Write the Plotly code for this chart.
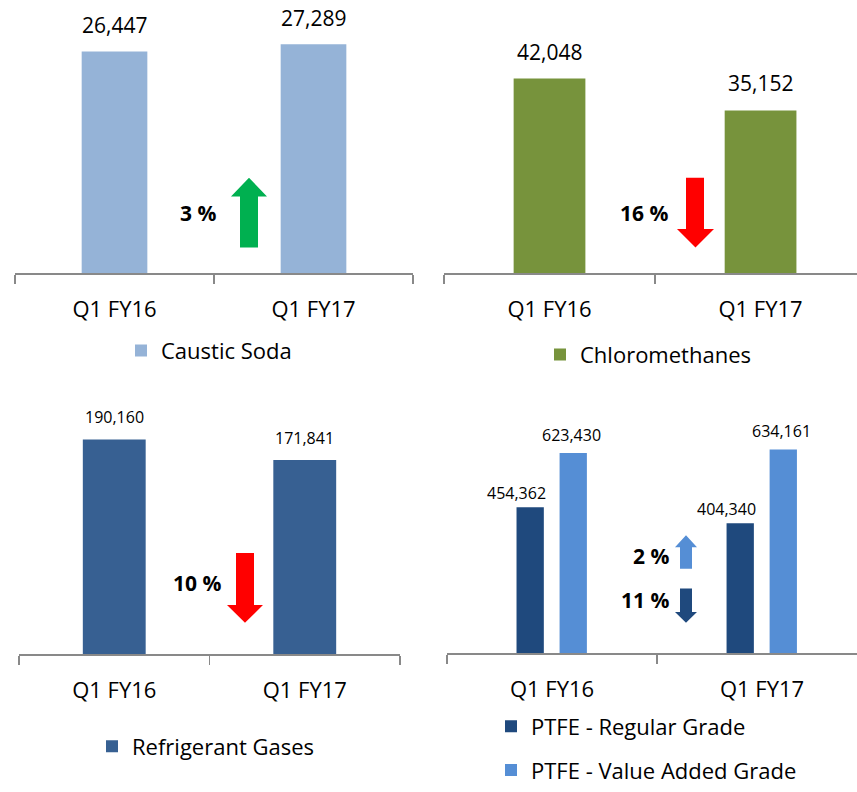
import plotly.graph_objects as go

W, H = 857, 792

# ---------------- data ----------------
categories = ["Q1 FY16", "Q1 FY17"]
caustic_soda = [26447, 27289]
chloromethanes = [42048, 35152]
refrigerant_gases = [190160, 171841]
ptfe_regular = [454362, 404340]
ptfe_value_added = [623430, 634161]
change_labels = ["3 %", "16 %", "10 %", "2 %", "11 %"]

FONT = "Open Sans"
AXIS_COL = "#898989"


def px(x):
    return x / W


def py(y):
    return 1 - y / H


fig = go.Figure()

# panel geometry in pixels
panels = [
    dict(x0=15, x1=413, yt=22, yb=278, ymax=30000, xr=[-0.5, 1.5]),
    dict(x0=444, x1=857, yt=42.5, yb=278, ymax=50000, xr=[-0.5, 1.457]),
    dict(x0=19, x1=400, yt=436, yb=666, ymax=200000, xr=[-0.5, 1.5]),
    dict(x0=447, x1=857, yt=436, yb=665, ymax=700000, xr=[-0.5, 1.452]),
]

layout_axes = {}
for i, p in enumerate(panels, start=1):
    sfx = "" if i == 1 else str(i)
    layout_axes["xaxis" + sfx] = dict(
        domain=[px(p["x0"]), px(p["x1"])],
        anchor="y" + sfx,
        type="category",
        range=p["xr"],
        showline=True, linecolor=AXIS_COL, linewidth=1.5,
        ticks="outside", tickson="boundaries", ticklen=9,
        tickcolor=AXIS_COL, tickwidth=1.5,
        showgrid=False, zeroline=False,
        tickfont=dict(family=FONT, size=22, color="#000000"),
        ticklabelstandoff=16,
        fixedrange=True,
    )
    layout_axes["yaxis" + sfx] = dict(
        domain=[py(p["yb"]), py(p["yt"])],
        anchor="x" + sfx,
        range=[0, p["ymax"]],
        visible=False, showgrid=False, zeroline=False,
        fixedrange=True,
    )

# ---------------- bars ----------------
fig.add_trace(go.Bar(x=categories, y=caustic_soda, name="Caustic Soda",
                     marker=dict(color="#95B3D7", line=dict(width=0)),
                     width=0.33, xaxis="x", yaxis="y", legend="legend"))
fig.add_trace(go.Bar(x=categories, y=chloromethanes, name="Chloromethanes",
                     marker=dict(color="#77933C", line=dict(width=0)),
                     width=0.34, xaxis="x2", yaxis="y2", legend="legend2"))
fig.add_trace(go.Bar(x=categories, y=refrigerant_gases, name="Refrigerant Gases",
                     marker=dict(color="#376092", line=dict(width=0)),
                     width=0.33, xaxis="x3", yaxis="y3", legend="legend3"))
fig.add_trace(go.Bar(x=categories, y=ptfe_regular, name="PTFE - Regular Grade",
                     marker=dict(color="#1F497D", line=dict(width=0)),
                     width=0.13, offset=-0.169, xaxis="x4", yaxis="y4",
                     legend="legend4", legendgroup="reg"))
fig.add_trace(go.Bar(x=categories, y=ptfe_value_added, name="PTFE - Value Added Grade",
                     marker=dict(color="#558ED5", line=dict(width=0)),
                     width=0.13, offset=0.036, xaxis="x4", yaxis="y4",
                     legend="legend4", legendgroup="vag"))

# ---------------- value labels ----------------
annotations = []


def value_labels(values, xref, yref, size, yshift, xshift=0):
    for c, v in zip(categories, values):
        annotations.append(dict(
            x=c, y=v, xref=xref, yref=yref, text=f"{v:,}", showarrow=False,
            yanchor="middle", xanchor="center", yshift=yshift, xshift=xshift,
            font=dict(family=FONT, size=size, color="#000000")))


value_labels(caustic_soda, "x", "y", 21, 26)
value_labels(chloromethanes, "x2", "y2", 21, 27)
value_labels(refrigerant_gases, "x3", "y3", 16, 22)
value_labels(ptfe_regular, "x4", "y4", 16, 14, xshift=-36)
value_labels(ptfe_value_added, "x4", "y4", 16, 18, xshift=19)

# ---------------- change percentages ----------------
pct_pos = [(198, 217), (644, 217), (197, 593), (651, 566), (645, 611)]
for t, (cx, cy) in zip(change_labels, pct_pos):
    annotations.append(dict(
        x=px(cx), y=py(cy), xref="paper", yref="paper", text=f"<b>{t}</b>",
        showarrow=False, xanchor="center", yanchor="middle",
        font=dict(family=FONT, size=21, color="#000000")))


# ---------------- block arrows (decoration) ----------------
def up_arrow(l, r, sl, sr, tip, hb, bottom):
    m = (l + r) / 2
    pts = [(sl, bottom), (sl, hb), (l, hb), (m, tip), (r, hb), (sr, hb), (sr, bottom)]
    return "M " + " L ".join(f"{px(a):.5f},{py(b):.5f}" for a, b in pts) + " Z"


def down_arrow(l, r, sl, sr, top, ht, tip):
    m = (l + r) / 2
    pts = [(sl, top), (sl, ht), (l, ht), (m, tip), (r, ht), (sr, ht), (sr, top)]
    return "M " + " L ".join(f"{px(a):.5f},{py(b):.5f}" for a, b in pts) + " Z"


shapes = [
    dict(type="path", xref="paper", yref="paper", path=up_arrow(231, 267, 240, 258, 181, 200, 252),
         fillcolor="#00B050", line=dict(width=0)),
    dict(type="path", xref="paper", yref="paper", path=down_arrow(677, 714, 686, 704, 181, 233, 252),
         fillcolor="#FF0000", line=dict(width=0)),
    dict(type="path", xref="paper", yref="paper", path=down_arrow(227, 263, 236, 254, 563, 616, 634),
         fillcolor="#FF0000", line=dict(width=0)),
    dict(type="path", xref="paper", yref="paper", path=up_arrow(675, 697, 680, 692, 545, 557, 579),
         fillcolor="#558ED5", line=dict(width=0)),
    dict(type="path", xref="paper", yref="paper", path=down_arrow(675, 697, 680, 692, 599, 623, 634),
         fillcolor="#1F497D", line=dict(width=0)),
]

legend_font = dict(family=FONT, size=22, color="#000000")


def legend_at(x, y):
    return dict(x=px(x), y=py(y), xanchor="left", yanchor="middle",
                font=legend_font, bgcolor="rgba(0,0,0,0)", borderwidth=0,
                itemwidth=30, orientation="v", traceorder="grouped",
                tracegroupgap=12, itemclick=False, itemdoubleclick=False)


fig.update_layout(
    width=W, height=H,
    autosize=False,
    margin=dict(l=0, r=0, t=0, b=0),
    paper_bgcolor="white", plot_bgcolor="white",
    barmode="overlay",
    showlegend=True,
    legend=legend_at(121, 357),
    legend2=legend_at(540, 361),
    legend3=legend_at(92, 760),
    legend4=legend_at(491, 762),
    annotations=annotations,
    shapes=shapes,
    font=dict(family=FONT),
    **layout_axes,
)

fig.write_html("out.html",
               config={"responsive": False, "displayModeBar": False, "staticPlot": True},
               post_script="document.body.style.margin='0px';document.body.style.overflow='hidden';")
